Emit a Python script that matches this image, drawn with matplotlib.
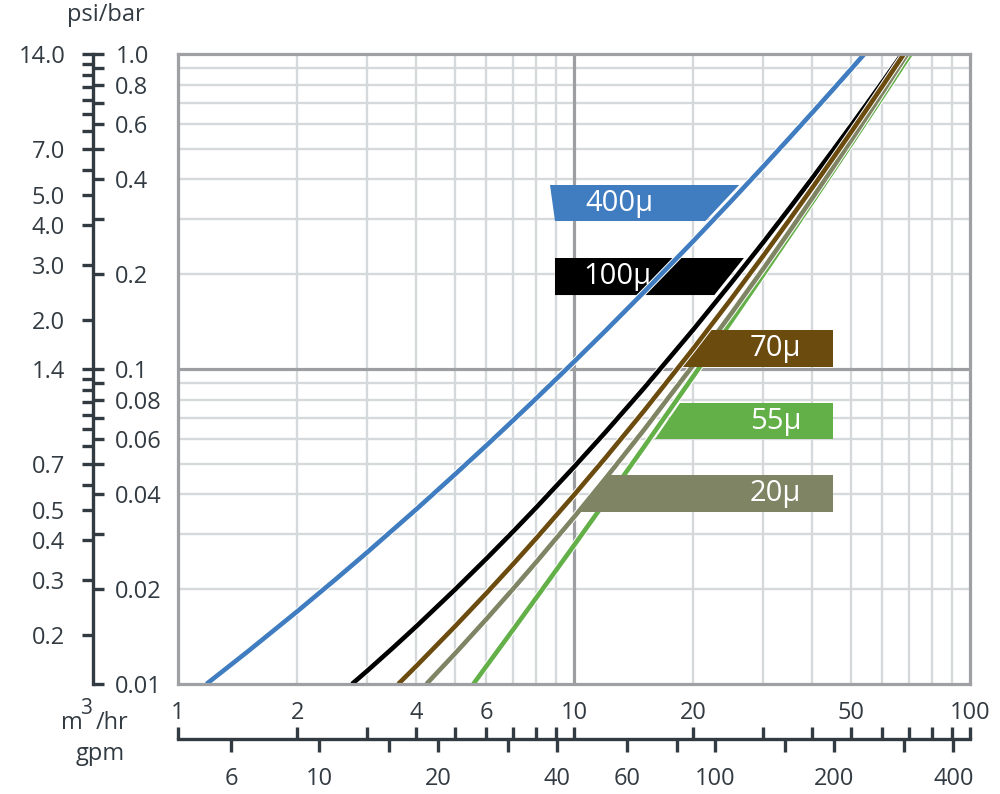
import numpy as np
import matplotlib
matplotlib.use("Agg")
import matplotlib.pyplot as plt
import matplotlib.patheffects as pe
from matplotlib.patches import Polygon
from matplotlib.ticker import FixedLocator, FixedFormatter, NullLocator

plt.rcParams['font.family'] = ['Open Sans', 'DejaVu Sans']

# ---------------- data ----------------
labels = ["400µ", "100µ", "70µ", "55µ", "20µ"]
colors = ["#3F7CC0", "#000000", "#6C4B0F", "#64B048", "#7E8464"]

# flow m3/hr vs pressure drop bar
q_400 = [1.18, 1.5, 2, 2.5, 3, 4, 5, 6, 7, 8, 10, 12, 15, 20, 25, 30, 35, 40, 45, 50, 54.1]
p_400 = [0.0100, 0.01268, 0.01700, 0.02149, 0.02614, 0.03589, 0.04623, 0.05708, 0.06847,
         0.08030, 0.1054, 0.1321, 0.1752, 0.2545, 0.3423, 0.4381, 0.5415, 0.6519, 0.7691,
         0.8930, 1.0]
q_100 = [2.75, 3, 3.5, 4, 5, 6, 7, 8, 10, 12, 15, 20, 25, 30, 35, 40, 45, 50, 55, 60, 67.4]
p_100 = [0.0100, 0.01099, 0.01307, 0.01525, 0.01991, 0.02495, 0.03037, 0.03616, 0.04885,
         0.06295, 0.08674, 0.1333, 0.1883, 0.2517, 0.3237, 0.4042, 0.4932, 0.5906, 0.6970,
         0.8123, 1.0]
q_70 = [3.6, 4, 5, 6, 7, 8, 10, 12, 15, 20, 25, 30, 35, 40, 45, 50, 55, 60, 68.1]
p_70 = [0.0100, 0.01141, 0.01521, 0.01938, 0.02393, 0.02886, 0.03980, 0.05218, 0.07344,
        0.1160, 0.1675, 0.2280, 0.2977, 0.3766, 0.4651, 0.5630, 0.6707, 0.7885, 1.0]
q_55 = [5.57, 6, 7, 8, 10, 12, 15, 20, 25, 30, 35, 40, 45, 50, 55, 60, 70.8]
p_55 = [0.0100, 0.01137, 0.01481, 0.01866, 0.02754, 0.03796, 0.05644, 0.09472, 0.1422,
        0.1988, 0.2645, 0.3393, 0.4231, 0.5160, 0.6181, 0.7294, 1.0]
q_20 = [4.24, 5, 6, 7, 8, 10, 12, 15, 20, 25, 30, 35, 40, 45, 50, 55, 60, 69.4]
p_20 = [0.0100, 0.01247, 0.01604, 0.01997, 0.02425, 0.03385, 0.04486, 0.06394, 0.1028,
        0.1505, 0.2073, 0.2735, 0.3491, 0.4345, 0.5299, 0.6356, 0.7518, 1.0]

# label boxes (pressure range, bar)
box_top = [0.3838, 0.2251, 0.1330, 0.0780, 0.0461]
box_bot = [0.2950, 0.1717, 0.1015, 0.0599, 0.0352]

# axis ticks
x_ticks = [1, 2, 3, 4, 5, 6, 7, 8, 9, 10, 20, 30, 40, 50, 60, 70, 80, 90, 100]
x_labels = ["1", "2", "", "4", "", "6", "", "", "", "10", "20", "", "", "50", "", "", "", "", "100"]
gpm_ticks = [6, 10, 15, 20, 30, 40, 60, 80, 100, 150, 200, 300, 400]
gpm_labels = ["6", "10", "", "20", "", "40", "60", "", "100", "", "200", "", "400"]
bar_ticks = [0.01, 0.02, 0.03, 0.04, 0.05, 0.06, 0.07, 0.08, 0.09,
             0.1, 0.2, 0.3, 0.4, 0.5, 0.6, 0.7, 0.8, 0.9, 1.0]
bar_labels = ["0.01", "0.02", "", "0.04", "", "0.06", "", "0.08", "",
              "0.1", "0.2", "", "0.4", "", "0.6", "", "0.8", "", "1.0"]
psi_ticks = [0.2, 0.3, 0.4, 0.5, 0.6, 0.7, 0.8, 0.9, 1.0, 1.1, 1.2, 1.3, 1.4,
             2, 3, 4, 5, 6, 7, 8, 9, 10, 11, 12, 13, 14]
psi_labels = ["0.2", "0.3", "0.4", "0.5", "", "0.7", "", "", "", "", "", "", "1.4",
              "2.0", "3.0", "4.0", "5.0", "", "7.0", "", "", "", "", "", "", "14.0"]
PSI_PER_BAR = 14.0
GPM_PER_M3H = 4.40287

# ---------------- figure ----------------
W, H = 1000, 794
fig = plt.figure(figsize=(W / 100, H / 100), dpi=100)
fig.patch.set_facecolor("white")


def fx(px):
    return px / W


def fy(py):
    return 1 - py / H


TXT = "#333B42"
FS = 17
X0, X1, Y0, Y1 = 178, 970, 54, 684

ax = fig.add_axes([fx(X0), fy(Y1), (X1 - X0) / W, (Y1 - Y0) / H])
ax.set_xscale("log")
ax.set_yscale("log")
ax.set_xlim(1, 100)
ax.set_ylim(0.01, 1)
for a in (ax.xaxis, ax.yaxis):
    a.set_major_locator(NullLocator())
    a.set_minor_locator(NullLocator())
for s in ax.spines.values():
    s.set_color("#9EA0A3")
    s.set_linewidth(2.3)
    s.set_zorder(10)

# grid
for v in x_ticks[1:-1]:
    major = v == 10
    ax.axvline(v, color="#9C9EA1" if major else "#D6D9DC",
               lw=2.3 if major else 1.7, zorder=0.6 if major else 0.5)
for v in bar_ticks[1:-1]:
    major = abs(v - 0.1) < 1e-9
    ax.axhline(v, color="#9C9EA1" if major else "#D6D9DC",
               lw=2.3 if major else 1.7, zorder=0.6 if major else 0.5)

series = [(q_400, p_400), (q_100, p_100), (q_70, p_70), (q_55, p_55), (q_20, p_20)]
line_z = [4.0, 3.5, 3.5, 2.0, 2.1]
LW = 3.3
halo = [pe.Stroke(linewidth=LW + 1.4, foreground="white"), pe.Normal()]
for (q, p), c, z in zip(series, colors, line_z):
    ax.plot(q, p, color=c, lw=LW, zorder=z, solid_capstyle="butt",
            solid_joinstyle="round", path_effects=halo)


def q_on(idx, p):
    q, pp = series[idx]
    return 10 ** np.interp(np.log10(p), np.log10(pp), np.log10(q))


GAP = 10 ** (7 / 396)
RIGHT = 10 ** ((833 - X0) / 396)
LEFT_TOP = 10 ** ((550 - X0) / 396)
LEFT_BOT = 10 ** ((555 - X0) / 396)

boxes = []
t, b = box_top[0], box_bot[0]
boxes.append([(LEFT_TOP, t), (q_on(0, t) / GAP, t), (q_on(0, b) / GAP, b), (LEFT_BOT, b)])
t, b = box_top[1], box_bot[1]
boxes.append([(LEFT_BOT, t), (q_on(1, t) / GAP, t), (q_on(1, b) / GAP, b), (LEFT_BOT, b)])
t, b = box_top[2], box_bot[2]
boxes.append([(q_on(2, t), t), (RIGHT, t), (RIGHT, b), (q_on(2, b), b)])
t, b = box_top[3], box_bot[3]
boxes.append([(q_on(3, t) * GAP * 0.99, t), (RIGHT, t), (RIGHT, b), (q_on(3, b) * GAP * 0.99, b)])
t, b = box_top[4], box_bot[4]
boxes.append([(q_on(4, t), t), (RIGHT, t), (RIGHT, b), (q_on(4, b), b)])

text_x = [10 ** ((585 - X0) / 396), 10 ** ((583 - X0) / 396),
          10 ** ((750 - X0) / 396), 10 ** ((750 - X0) / 396), 10 ** ((750 - X0) / 396)]
for i, poly in enumerate(boxes):
    ax.add_patch(Polygon(poly, closed=True, facecolor=colors[i], edgecolor="none",
                         zorder=3.0))
    yc = np.sqrt(box_top[i] * box_bot[i])
    ax.text(text_x[i], yc, labels[i], color="white", fontsize=21,
            ha="left", va="center", zorder=5)

# ---------------- left pressure scale ----------------
axs = fig.add_axes([fx(93), fy(Y1), 0.0001, (Y1 - Y0) / H])
axp = axs.twinx()
axs.set_yscale("log")
axs.set_ylim(0.01, 1)
axs.xaxis.set_major_locator(NullLocator())
axs.xaxis.set_minor_locator(NullLocator())
for k in ("top", "right", "bottom"):
    axs.spines[k].set_visible(False)
axs.spines["left"].set_color(TXT)
axs.spines["left"].set_linewidth(2.4)
axs.patch.set_visible(False)
axs.yaxis.set_major_locator(FixedLocator(bar_ticks))
axs.yaxis.set_major_formatter(FixedFormatter(bar_labels))
axs.yaxis.set_minor_locator(NullLocator())
axs.yaxis.set_ticks_position("right")
axs.tick_params(axis="y", which="both", left=False, labelleft=False,
                right=True, labelright=True, direction="out", length=8, width=2.4,
                color=TXT, labelsize=FS, labelcolor=TXT, pad=8)

axp.set_yscale("log")
axp.set_ylim(0.01 * PSI_PER_BAR, 1.0 * PSI_PER_BAR)
for s in axp.spines.values():
    s.set_visible(False)
axp.patch.set_visible(False)
axp.yaxis.set_major_locator(FixedLocator(psi_ticks))
axp.yaxis.set_major_formatter(FixedFormatter(psi_labels))
axp.yaxis.set_minor_locator(NullLocator())
axp.yaxis.set_ticks_position("left")
axp.tick_params(axis="y", which="both", left=True, labelleft=True,
                right=False, labelright=False, direction="out", length=8, width=2.4,
                color=TXT, labelsize=FS, labelcolor=TXT, pad=12)

# ---------------- bottom flow scale ----------------
axb = fig.add_axes([fx(X0), fy(739), (X1 - X0) / W, 0.0001])
axg = axb.twiny()
axb.set_xscale("log")
axb.set_xlim(1, 100)
axb.yaxis.set_major_locator(NullLocator())
axb.yaxis.set_minor_locator(NullLocator())
for k in ("top", "left", "right"):
    axb.spines[k].set_visible(False)
axb.spines["bottom"].set_color(TXT)
axb.spines["bottom"].set_linewidth(2.4)
axb.patch.set_visible(False)
axb.xaxis.set_major_locator(FixedLocator(x_ticks))
axb.xaxis.set_major_formatter(FixedFormatter(x_labels))
axb.xaxis.set_minor_locator(NullLocator())
axb.xaxis.set_ticks_position("top")
axb.tick_params(axis="x", which="both", bottom=False, labelbottom=False,
                top=True, labeltop=True, direction="out", length=9, width=2.4,
                color=TXT, labelsize=FS, labelcolor=TXT, pad=1)

axg.set_xscale("log")
axg.set_xlim(1 * GPM_PER_M3H, 100 * GPM_PER_M3H)
for s in axg.spines.values():
    s.set_visible(False)
axg.patch.set_visible(False)
axg.xaxis.set_major_locator(FixedLocator(gpm_ticks))
axg.xaxis.set_major_formatter(FixedFormatter(gpm_labels))
axg.xaxis.set_minor_locator(NullLocator())
axg.xaxis.set_ticks_position("bottom")
axg.tick_params(axis="x", which="both", top=False, labeltop=False,
                bottom=True, labelbottom=True, direction="out", length=9, width=2.4,
                color=TXT, labelsize=FS, labelcolor=TXT, pad=11)

# ---------------- unit labels ----------------
fig.text(fx(106), fy(15), "psi/bar", ha="center", va="center", fontsize=FS, color=TXT)
fig.text(fx(61), fy(729), "m", ha="left", va="baseline", fontsize=FS, color=TXT)
fig.text(fx(80), fy(714), "3", ha="left", va="baseline", fontsize=15, color=TXT)
fig.text(fx(96), fy(729), "/hr", ha="left", va="baseline", fontsize=FS, color=TXT)
fig.text(fx(100), fy(754), "gpm", ha="center", va="center", fontsize=FS, color=TXT)

fig.savefig("out.png", dpi=100)
